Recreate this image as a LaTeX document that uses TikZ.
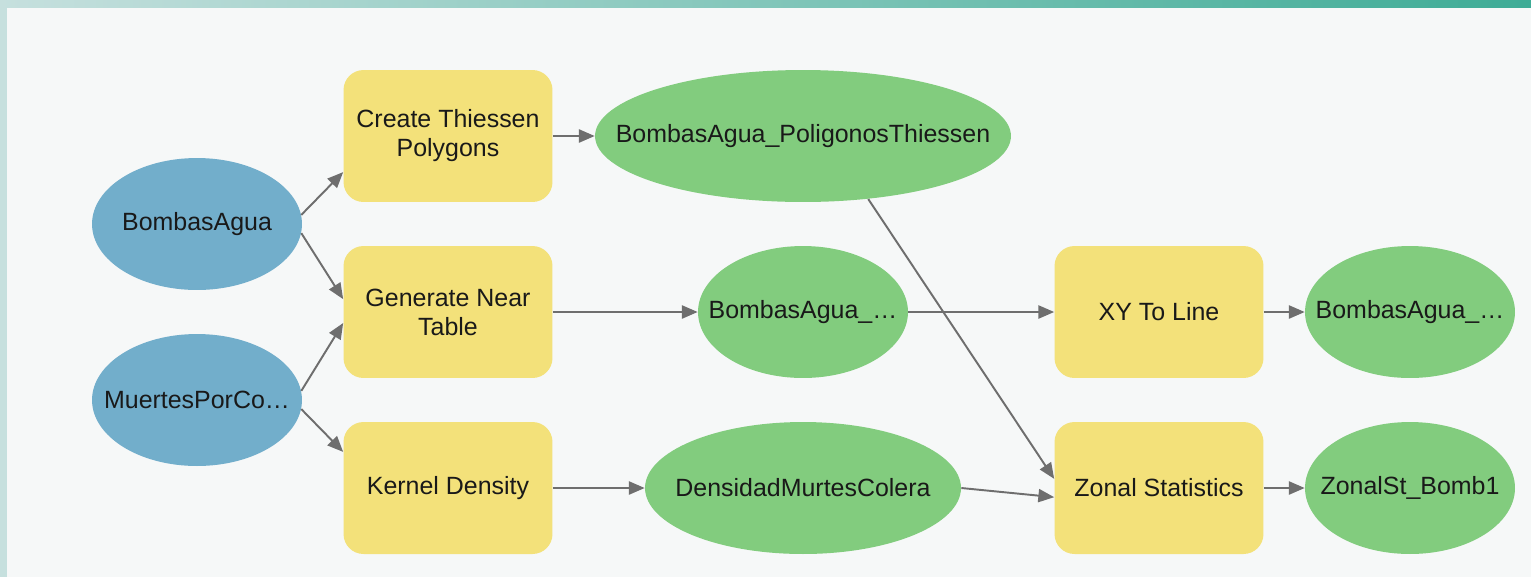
\documentclass[tikz,border=0pt]{standalone}
\usepackage{fontspec}
\setmainfont{Liberation Sans}
\usetikzlibrary{shapes.geometric,arrows.meta}

\definecolor{colFondo}{RGB}{246,248,248}
\definecolor{colMarcoA}{RGB}{198,224,222}
\definecolor{colMarcoB}{RGB}{62,172,150}
\definecolor{colEntrada}{RGB}{114,174,203}
\definecolor{colHerram}{RGB}{243,225,122}
\definecolor{colSalida}{RGB}{130,204,126}
\definecolor{colFlecha}{RGB}{110,110,110}

% etiqueta de ancho nulo: la elipse toma su tamano minimo
\newcommand{\etq}[1]{\makebox[0pt]{#1}}

\begin{document}
\begin{tikzpicture}[x=0.02cm, y=-0.02cm,
	texto/.style={font=\fontsize{14.2}{16.5}\selectfont, text=black!90, align=center},
	dato/.style={texto, ellipse, minimum height=2.64cm, inner sep=0pt},
	entrada/.style={dato, fill=colEntrada, minimum width=4.2cm},
	salida/.style={dato, fill=colSalida, minimum width=4.2cm},
	herram/.style={texto, rectangle, rounded corners=0.4cm, fill=colHerram, minimum width=4.18cm, minimum height=2.64cm, inner sep=0pt},
	flujo/.style={draw=colFlecha, line width=1.1pt, -{Triangle[length=9pt,width=7.5pt]}}]

	% fondo
	\useasboundingbox ( 0, 0 ) rectangle ( 1531, 576 );
	\shade [left color=colMarcoA, right color=colMarcoB] ( 0, 0 ) rectangle ( 1531, 576 );
	\fill [colFondo] ( 7, 8 ) rectangle ( 1545, 590 );

	% entradas
	\node [entrada] (bombas) at ( 197, 224 ) {\etq{BombasAgua}};
	\node [entrada] (muertes) at ( 197, 400 ) {\etq{MuertesPorCo…}};

	% herramientas
	\node [herram] (thiessen) at ( 448, 136 ) {Create Thiessen\\Polygons};
	\node [herram] (near) at ( 448, 312 ) {Generate Near\\Table};
	\node [herram] (kernel) at ( 448, 488 ) {Kernel Density};
	\node [herram] (xyline) at ( 1159, 312 ) {XY To Line};
	\node [herram] (zonal) at ( 1159, 488 ) {Zonal Statistics};

	% salidas
	\node [salida, minimum width=8.32cm] (poligonos) at ( 803, 136 ) {\etq{BombasAgua\_PoligonosThiessen}};
	\node [salida] (tabla) at ( 803, 312 ) {\etq{BombasAgua\_…}};
	\node [salida, minimum width=6.32cm] (densidad) at ( 803, 488 ) {\etq{DensidadMurtesColera}};
	\node [salida] (lineas) at ( 1410, 312 ) {\etq{BombasAgua\_…}};
	\node [salida] (zonalst) at ( 1410, 488 ) {\etq{ZonalSt\_Bomb1}};

	% conexiones
	\draw [flujo] (bombas.5) -- (thiessen.199);
	\draw [flujo] (bombas.-5) -- (near.173);
	\draw [flujo] (muertes.5) -- (near.186);
	\draw [flujo] (muertes.-5) -- (kernel.161);
	\draw [flujo] (thiessen) -- (poligonos);
	\draw [flujo] (near) -- (tabla);
	\draw [flujo] (kernel) -- (densidad);
	\draw [flujo] (poligonos.-44) -- (zonal.175);
	\draw [flujo] (densidad.east) -- (zonal.185);
	\draw [flujo] (tabla) -- (xyline);
	\draw [flujo] (xyline) -- (lineas);
	\draw [flujo] (zonal) -- (zonalst);
\end{tikzpicture}
\end{document}
